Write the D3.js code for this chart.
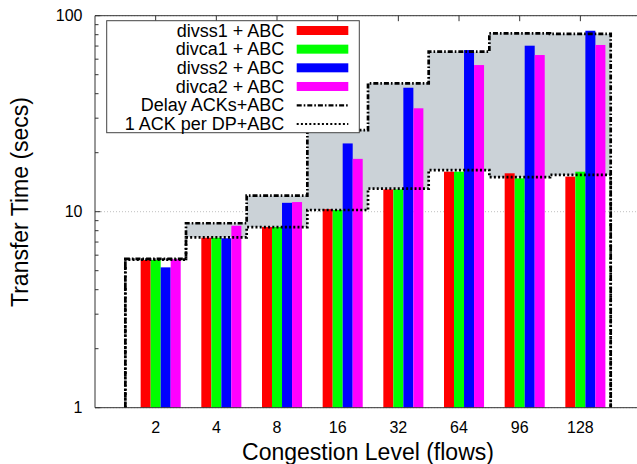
<!DOCTYPE html>
<html>
<head>
<meta charset="utf-8">
<script src="https://cdn.jsdelivr.net/npm/d3@7/dist/d3.min.js"></script>
<style>
  body { margin: 0; background: #fff; }
  svg { display: block; font-family: "Liberation Sans", Arial, Helvetica, sans-serif; }
</style>
</head>
<body>
<div id="chart"></div>
<script>
// congestion levels (flows)
let categories = ['2', '4', '8', '16', '32', '64', '96', '128']

// transfer time in secs
let divss1 = [5.67, 7.37, 8.35, 10.3, 13.0, 16.0, 15.7, 15.1]
let divca1 = [5.67, 7.37, 8.35, 10.2, 13.0, 16.0, 14.8, 16.0]
let divss2 = [5.2, 7.32, 11.1, 22.3, 42.9, 66.8, 70.3, 83.8]
let divca2 = [5.72, 8.48, 11.2, 18.6, 33.7, 56.0, 63.0, 70.9]
let delayAcks = [5.75, 8.73, 12.07, 26.1, 45.2, 65.5, 81.3, 80.7]
let oneAck = [5.7, 7.4, 8.35, 10.2, 13.1, 16.3, 15.0, 15.4]

let yTicks = [1, 10, 100]

let series = [
  { name: 'divss1 + ABC', values: divss1, color: '#ff0000' },
  { name: 'divca1 + ABC', values: divca1, color: '#00ff00' },
  { name: 'divss2 + ABC', values: divss2, color: '#0000ff' },
  { name: 'divca2 + ABC', values: divca2, color: '#ff00ff' }
]
let lines = [
  { name: 'Delay ACKs+ABC', values: delayAcks, dash: '5,2,1.6,2' },
  { name: '1 ACK per DP+ABC', values: oneAck, dash: '2,2.2' }
]

let width = 637
let height = 464
let margin = { top: 15.7, left: 95, bottom: 56.3 }

let svg = d3.select('#chart')
  .append('svg')
  .attr('width', width)
  .attr('height', height)

// index scale, a bit wider than the window so the right frame falls outside
let x = d3.scaleLinear().domain([-1, 8]).range([margin.left, margin.left + 9 * 60.67])
let y = d3.scaleLog().domain([1, 100]).range([height - margin.bottom, margin.top])

let step = x(1) - x(0)
let barW = step * 0.165
let y0 = y.range()[0]
let y1 = y.range()[1]

// grid
svg.selectAll('.grid')
  .data(yTicks)
  .enter()
  .append('line')
  .attr('class', 'grid')
  .attr('x1', margin.left)
  .attr('x2', width)
  .attr('y1', d => y(d))
  .attr('y2', d => y(d))
  .attr('stroke', '#b0b0b0')
  .attr('stroke-width', 0.8)
  .attr('stroke-dasharray', '1,2')

// shaded band between the two step lines
let bandData = categories.map((c, i) => ({ i: i - 0.5, lo: oneAck[i], hi: delayAcks[i] }))
bandData.push({ i: 7.5, lo: oneAck[7], hi: delayAcks[7] })

let area = d3.area()
  .curve(d3.curveStepAfter)
  .x(d => x(d.i))
  .y0(d => y(d.lo))
  .y1(d => y(d.hi))

svg.append('path')
  .datum(bandData)
  .attr('d', area)
  .attr('fill', '#cbd2d7')

// bars
svg.selectAll('.group')
  .data(series)
  .enter()
  .append('g')
  .attr('class', 'group')
  .attr('fill', d => d.color)
  .each(function(s, k) {
    d3.select(this)
      .selectAll('rect')
      .data(s.values)
      .enter()
      .append('rect')
      .attr('x', (d, i) => x(i) - 1.5 * barW + k * barW)
      .attr('width', barW)
      .attr('y', d => y(d))
      .attr('height', d => y0 - y(d))
  })

// step lines
let stepLine = d3.line()
  .curve(d3.curveStepAfter)
  .x(d => x(d[0]))
  .y(d => y(d[1]))

lines.forEach(l => {
  let pts = [[-0.5, 1]]
  l.values.forEach((v, i) => pts.push([i - 0.5, v]))
  pts.push([7.5, l.values[7]])
  pts.push([7.5, 1])
  svg.append('path')
    .attr('d', stepLine(pts))
    .attr('fill', 'none')
    .attr('stroke', '#000')
    .attr('stroke-width', 2.7)
    .attr('stroke-dasharray', l.dash)
})

// frame
svg.append('path')
  .attr('d', `M${width + 2},${y1}H${margin.left}V${y0}H${width + 2}`)
  .attr('fill', 'none')
  .attr('stroke', '#333')
  .attr('stroke-width', 1)

// y ticks, major and minor, pointing inward
let minor = []
for (let d = 1; d < 100; d *= 10) {
  for (let m = 2; m <= 9; m++) minor.push(d * m)
}
svg.selectAll('.ytick-minor')
  .data(minor)
  .enter()
  .append('line')
  .attr('x1', margin.left)
  .attr('x2', margin.left + 3.5)
  .attr('y1', d => y(d))
  .attr('y2', d => y(d))
  .attr('stroke', '#333')

svg.selectAll('.ytick')
  .data(yTicks)
  .enter()
  .append('line')
  .attr('x1', margin.left)
  .attr('x2', margin.left + 5.5)
  .attr('y1', d => y(d))
  .attr('y2', d => y(d))
  .attr('stroke', '#333')

svg.selectAll('.ylabel')
  .data(yTicks)
  .enter()
  .append('text')
  .attr('x', margin.left - 12.5)
  .attr('y', d => y(d))
  .attr('dy', '0.36em')
  .attr('text-anchor', 'end')
  .attr('font-size', 16)
  .text(d => d)

// x ticks on top
svg.selectAll('.xtick')
  .data(categories)
  .enter()
  .append('line')
  .attr('x1', (d, i) => x(i))
  .attr('x2', (d, i) => x(i))
  .attr('y1', y1)
  .attr('y2', y1 + 5.5)
  .attr('stroke', '#333')

svg.selectAll('.xlabel')
  .data(categories)
  .enter()
  .append('text')
  .attr('x', (d, i) => x(i))
  .attr('y', y0 + 25.6)
  .attr('text-anchor', 'middle')
  .attr('font-size', 16)
  .text(d => d)

// axis titles
svg.append('text')
  .attr('x', 368)
  .attr('y', 460)
  .attr('text-anchor', 'middle')
  .attr('font-size', 23)
  .text('Congestion Level (flows)')

svg.append('text')
  .attr('transform', 'translate(28,202) rotate(-90)')
  .attr('text-anchor', 'middle')
  .attr('font-size', 23)
  .text('Transfer Time (secs)')

// legend
let legend = svg.append('g')
legend.append('rect')
  .attr('x', 106.7)
  .attr('y', 20.7)
  .attr('width', 252.6)
  .attr('height', 112)
  .attr('fill', '#fff')
  .attr('stroke', '#444')
  .attr('stroke-width', 1)

let items = series.concat(lines)
items.forEach((d, i) => {
  let base = 36.7 + i * 18.66
  legend.append('text')
    .attr('x', 284.3)
    .attr('y', base)
    .attr('text-anchor', 'end')
    .attr('font-size', 18)
    .text(d.name)
  if (d.color) {
    legend.append('rect')
      .attr('x', 296.7)
      .attr('y', base - 10.7)
      .attr('width', 51.6)
      .attr('height', 9)
      .attr('fill', d.color)
  } else {
    legend.append('line')
      .attr('x1', 296.7)
      .attr('x2', 348.3)
      .attr('y1', base - 6)
      .attr('y2', base - 6)
      .attr('stroke', '#000')
      .attr('stroke-width', 2.2)
      .attr('stroke-dasharray', d.dash)
  }
})
</script>
</body>
</html>
